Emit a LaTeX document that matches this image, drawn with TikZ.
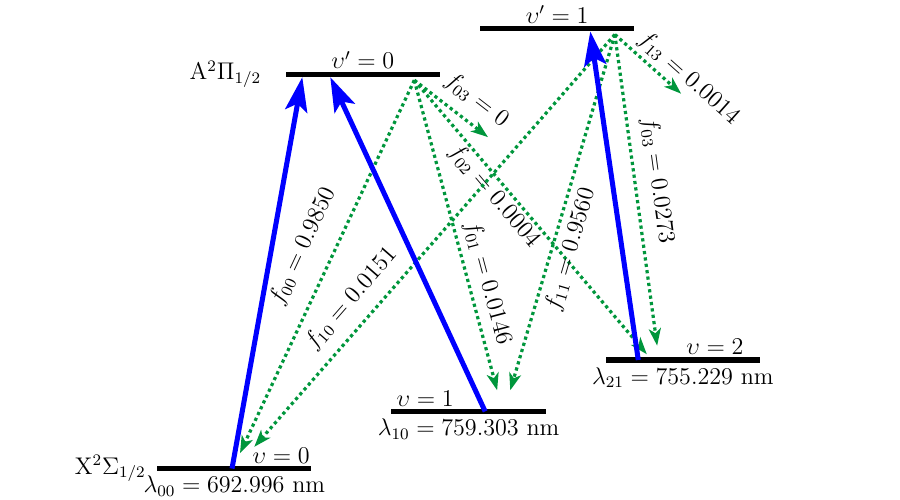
\documentclass[tikz,border=0pt]{standalone}
\usepackage{amsmath,amssymb}
\usetikzlibrary{arrows.meta}
\usetikzlibrary{positioning}
\definecolor{decaygreen}{RGB}{0,150,60}

\begin{document}
\begin{tikzpicture}[font=\large,
            lvl/.style={fill=black,minimum width=2.7cm,minimum height=2.5pt,inner sep=0pt},
            lbl/.style={inner sep=1pt},
            pump/.style={draw=blue,line width=2.5pt,-{Stealth[length=6mm,width=3.9mm,inset=1.3mm]}},
            decay/.style={draw=decaygreen,line width=1.6pt,dash pattern=on 1.6pt off 1.6pt,
                          -{Stealth[length=3mm,width=2.1mm,inset=0.8mm]}}
            ]
            \useasboundingbox (0,0) rectangle (15.75,8.75);

            % levels
            \node[lvl](X0) at (4.10,0.55){};
            \node[lvl](X1) at (8.20,1.55){};
            \node[lvl](X2) at (11.95,2.45){};
            \node[lvl](A0) at (6.35,7.45){};
            \node[lvl](A1) at (9.75,8.25){};

            \node[lbl](nX)[left=0.15cm of X0]{$\mathrm{X}^2\Sigma_{1/2}$};
            \node[lbl](nA)[left=0.38cm of A0]{$\mathrm{A}^2\Pi_{1/2}$};
            \node[lbl](nA0)[above=0pt of A0]{$\upsilon'=0$};
            \node[lbl](nA1)[above=0pt of A1]{$\upsilon'=1$};
            \node[lbl](nX0)[above=0pt of X0,xshift=0.82cm]{$\upsilon=0$};
            \node[lbl](nX1)[above=0pt of X1,xshift=-0.76cm]{$\upsilon=1$};
            \node[lbl](nX2)[above=0pt of X2,xshift=0.56cm]{$\upsilon=2$};
            \node[lbl](l00)[below=1pt of X0]{$\lambda_{00}=692.996$ nm};
            \node[lbl](l10)[below=1pt of X1]{$\lambda_{10}=759.303$ nm};
            \node[lbl](l21)[below=1pt of X2]{$\lambda_{21}=755.229$ nm};

            \coordinate (o0) at ([xshift=0.9cm,yshift=-1.5pt]A0.south);
            \coordinate (o1) at ([xshift=1.01cm,yshift=-1.5pt]A1.south);
            \coordinate (e03) at (8.54,6.35);
            \coordinate (e13) at (11.92,7.11);

            % spontaneous decays
            \path[every edge/.style={decay},every node/.style={lbl,sloped}]
            (o0) edge node[above=8pt,pos=.48]{$f_{00}=0.9850$} ([xshift=0.10cm,yshift=0.27cm]X0.center)
            (o0) edge node[above=2pt,pos=.67]{$f_{01}=0.0146$} ([xshift=0.50cm,yshift=0.37cm]X1.center)
            (o0) edge node[below=0pt,pos=.39]{$f_{02}=0.0004$} ([xshift=-0.63cm,yshift=0.10cm]X2.center)
            (o0) edge node[above=4pt,pos=.66]{$f_{03}=0$} (e03)
            (o1) edge node[above=5pt,pos=.68]{$f_{10}=0.0151$} ([xshift=0.35cm,yshift=0.38cm]X0.center)
            (o1) edge node[below=2pt,pos=.59]{$f_{11}=0.9560$} ([xshift=0.73cm,yshift=0.37cm]X1.center)
            (o1) edge node[above=4pt,pos=.48]{$f_{03}=0.0273$} ([xshift=-0.45cm,yshift=0.25cm]X2.center)
            (o1) edge node[above=1pt,pos=.95]{$f_{13}=0.0014$} (e13);

            % pump lasers
            \path[every edge/.style={pump}]
            ([xshift=-0.04cm]X0.center) edge ([xshift=-1.06cm]A0.south)
            ([xshift=0.29cm]X1.center) edge ([xshift=-0.57cm]A0.south)
            ([xshift=-0.78cm]X2.center) edge ([xshift=0.58cm]A1.south);

\end{tikzpicture}
\end{document}
